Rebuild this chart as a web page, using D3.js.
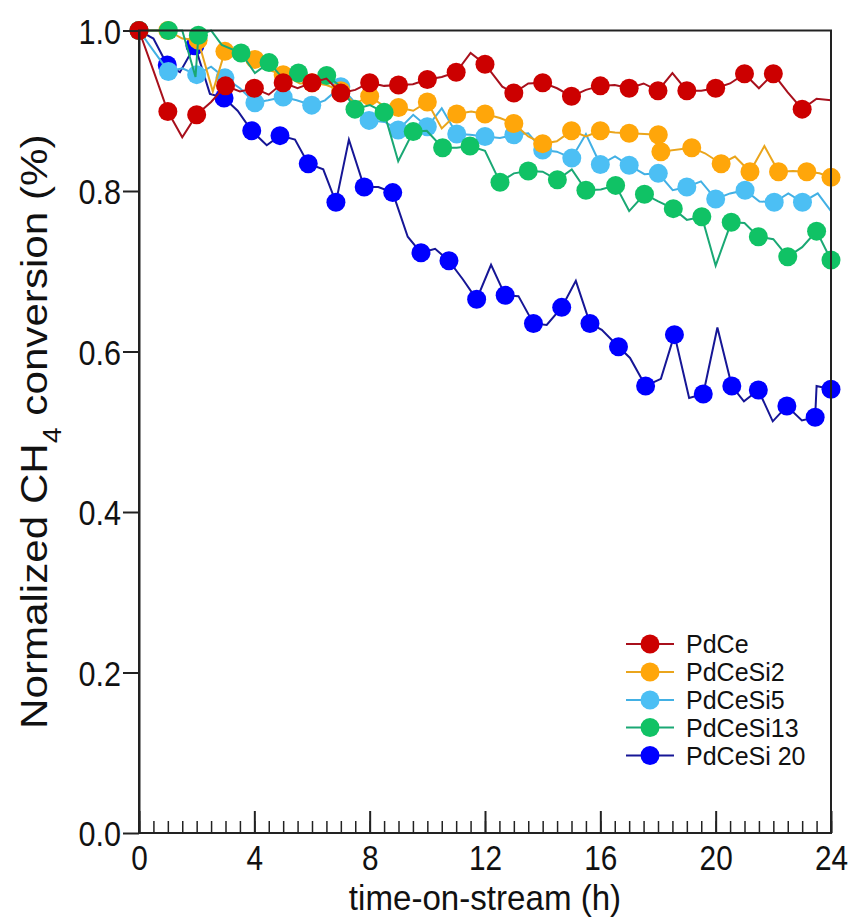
<!DOCTYPE html>
<html>
<head>
<meta charset="utf-8">
<script src="https://cdn.jsdelivr.net/npm/d3@7"></script>
<style>
	body { margin: 0; background: #fff; }
	svg text { font-family: "Liberation Sans", Arial, sans-serif; fill: #111; }
</style>
</head>
<body>
<div id="chart"></div>
<script>
// THE DATA (time in h, normalized conversion)
const seriesNames = ['PdCe', 'PdCeSi2', 'PdCeSi5', 'PdCeSi13', 'PdCeSi 20'];

const pdceT = [0,0.5,1,1.5,2,2.5,3,3.5,4,4.5,5,5.5,6,6.5,7,7.5,8,8.5,9,9.5,10,10.5,11,11.5,12,12.6,13,13.5,14,14.5,15,15.5,16,16.5,17,17.5,18,18.5,19,19.5,20,20.5,21,21.5,22,22.5,23,23.5,24];
const pdceV = [1.0,0.95,0.899,0.867,0.895,0.911,0.931,0.924,0.928,0.920,0.935,0.928,0.935,0.940,0.922,0.926,0.935,0.931,0.932,0.933,0.939,0.942,0.948,0.972,0.958,0.930,0.922,0.934,0.935,0.928,0.918,0.926,0.931,0.932,0.928,0.934,0.925,0.947,0.925,0.925,0.928,0.934,0.946,0.928,0.946,0.923,0.902,0.915,0.913];
const pdceM = [1,0,1,0,1,0,1,0,1,0,1,0,1,0,1,0,1,0,1,0,1,0,1,0,1,0,1,0,1,0,1,0,1,0,1,0,1,0,1,0,1,0,1,0,1,0,1,0,0];

const si2T = [0,0.5,1,1.5,2.05,2.56,2.98,3.5,4.02,4.48,5.0,5.58,6.0,6.5,7.0,7.49,8.0,8.53,9.0,9.51,10.0,10.5,11.02,11.52,12.0,12.52,13.0,13.5,14.0,14.49,15.0,15.5,16.0,16.51,17.0,17.53,18.01,18.1,19.17,19.63,20.19,20.67,21.19,21.69,22.18,22.68,23.16,23.6,24.0];
const si2V = [1.0,1.0,1.0,0.99,0.988,0.924,0.974,0.972,0.964,0.951,0.945,0.934,0.935,0.932,0.925,0.909,0.918,0.905,0.904,0.900,0.911,0.878,0.896,0.899,0.896,0.891,0.884,0.868,0.859,0.862,0.875,0.868,0.875,0.873,0.872,0.871,0.870,0.849,0.854,0.847,0.834,0.843,0.824,0.856,0.824,0.825,0.824,0.822,0.817];
const si2M = [1,0,1,0,1,0,1,0,1,0,1,0,1,0,1,0,1,0,1,0,1,0,1,0,1,0,1,0,1,0,1,0,1,0,1,0,1,1,1,0,1,0,1,0,1,0,1,0,1];

const si5T = [0,0.5,1.02,1.5,2.0,2.5,2.98,3.5,4.02,4.48,5.0,5.47,5.99,6.45,7.0,7.49,7.98,8.53,8.99,9.51,10.0,10.5,11.02,11.48,12.0,12.52,13.0,13.5,14.0,14.49,15.01,15.5,16.0,16.51,17.0,17.53,18.01,18.51,19.0,19.49,20.0,20.5,21.02,21.52,22.03,22.52,23.01,23.54,24.0];
const si5V = [1.0,0.975,0.949,0.953,0.945,0.955,0.941,0.928,0.910,0.913,0.917,0.913,0.907,0.913,0.930,0.910,0.888,0.886,0.876,0.895,0.880,0.903,0.871,0.870,0.868,0.866,0.870,0.872,0.851,0.849,0.841,0.871,0.833,0.843,0.832,0.821,0.822,0.801,0.805,0.812,0.790,0.797,0.801,0.787,0.786,0.797,0.786,0.797,0.775];
const si5M = [1,0,1,0,1,0,1,0,1,0,1,0,1,0,1,0,1,0,1,0,1,0,1,0,1,0,1,0,1,0,1,0,1,0,1,0,1,0,1,0,1,0,1,0,1,0,1,0,0];

const si13T = [0,0.5,1.02,1.5,1.96,2.06,2.5,2.87,3.54,4.02,4.51,5.0,5.53,6.0,6.51,7.0,7.49,8.01,8.5,8.99,9.51,9.98,10.53,11.02,11.48,12.0,12.52,13.0,13.5,14.0,14.51,15.01,15.5,16.02,16.53,17.0,17.53,18.01,18.53,19.0,19.52,20.0,20.54,21.0,21.48,22.0,22.5,23.0,23.5,24.0];
const si13V = [1.0,1.0,1.0,1.0,0.942,0.994,1.0,0.982,0.972,0.947,0.960,0.940,0.947,0.938,0.944,0.930,0.902,0.907,0.898,0.837,0.874,0.875,0.854,0.854,0.856,0.850,0.811,0.822,0.825,0.824,0.814,0.827,0.801,0.802,0.807,0.775,0.796,0.787,0.778,0.764,0.768,0.707,0.761,0.760,0.743,0.740,0.718,0.730,0.750,0.714];
const si13M = [1,0,1,0,0,1,0,0,1,0,1,0,1,0,1,0,1,0,1,0,1,0,1,0,1,0,1,0,1,0,1,0,1,0,1,0,1,0,1,0,1,0,1,0,1,0,1,0,1,1];

const si20T = [0,0.5,0.98,1.42,1.94,2.46,2.95,3.42,3.91,4.43,4.89,5.41,5.87,6.39,6.83,7.28,7.81,8.30,8.80,9.32,9.78,10.27,10.75,11.23,11.71,12.21,12.70,13.16,13.68,14.14,14.66,15.15,15.64,16.05,16.63,17.03,17.57,18.10,18.57,19.08,19.57,20.06,20.56,20.98,21.48,21.98,22.47,22.99,23.45,23.50,24.0];
const si20V = [1.0,0.99,0.957,0.948,0.981,0.921,0.916,0.900,0.875,0.857,0.869,0.864,0.834,0.827,0.786,0.864,0.805,0.805,0.798,0.743,0.723,0.728,0.713,0.690,0.665,0.708,0.670,0.669,0.635,0.633,0.655,0.688,0.635,0.627,0.606,0.592,0.557,0.566,0.621,0.542,0.547,0.630,0.557,0.538,0.552,0.513,0.532,0.514,0.518,0.557,0.553];
const si20M = [1,0,1,0,1,0,1,0,1,0,1,0,1,0,1,0,1,0,1,0,1,0,1,0,1,0,1,0,1,0,1,0,1,0,1,0,1,0,1,0,1,0,1,0,1,0,1,0,1,0,1];

const xMajorTicks = [0, 4, 8, 12, 16, 20, 24];
const xMinorTicks = d3.range(0, 24.01, 0.5);
const yTickValues = [0, 0.2, 0.4, 0.6, 0.8, 1.0];

// colours: marker fill, line stroke
const markerColours = ['#cc0000', '#ffa60a', '#4cbff4', '#10c265', '#0000ff'];
const lineColours = ['#a8101c', '#eaa51c', '#42b0e4', '#1aa874', '#161696'];

// THE GOOD STUFF
const width = 850;
const height = 917;
const margin = { top: 30.5, right: 19, bottom: 84, left: 139 };
const markerR = 9.5;

const x = d3.scaleLinear().domain([0, 24]).range([margin.left, width - margin.right]);
const y = d3.scaleLinear().domain([0, 1]).range([height - margin.bottom, margin.top]);

const svg = d3.select('#chart')
	.append('svg')
	.attr('width', width)
	.attr('height', height);

const series = [
	{ t: pdceT, v: pdceV, m: pdceM },
	{ t: si2T, v: si2V, m: si2M },
	{ t: si5T, v: si5V, m: si5M },
	{ t: si13T, v: si13V, m: si13M },
	{ t: si20T, v: si20V, m: si20M }
].map((s, i) => ({
	name: seriesNames[i],
	points: s.t.map((t, j) => ({ t, v: s.v[j], mark: s.m[j] === 1 }))
}));

const line = d3.line()
	.x(d => x(d.t))
	.y(d => y(d.v));

// draw order in the figure: blue at the back, red on top
const drawOrder = [4, 2, 1, 3, 0];

drawOrder.forEach(i => {
	const g = svg.append('g').attr('class', `series s${i}`);

	g.append('path')
		.datum(series[i].points)
		.attr('fill', 'none')
		.attr('stroke', lineColours[i])
		.attr('stroke-width', 2)
		.attr('d', line);

	g.selectAll('circle')
		.data(series[i].points.filter(d => d.mark))
		.join('circle')
		.attr('cx', d => x(d.t))
		.attr('cy', d => y(d.v))
		.attr('r', markerR)
		.attr('fill', markerColours[i]);
});

// frame
svg.append('rect')
	.attr('x', x(0))
	.attr('y', y(1))
	.attr('width', x(24) - x(0))
	.attr('height', y(0) - y(1))
	.attr('fill', 'none')
	.attr('stroke', '#222')
	.attr('stroke-width', 2);

// y axis, ticks pointing out
const yAxis = svg.append('g')
	.attr('transform', `translate(${x(0)},0)`)
	.call(d3.axisLeft(y)
		.tickValues(yTickValues)
		.tickSize(16)
		.tickSizeOuter(0)
		.tickFormat(d3.format('.1f'))
	);
yAxis.select('.domain').attr('stroke', '#222').attr('stroke-width', 2);
yAxis.selectAll('.tick line').attr('stroke', '#222').attr('stroke-width', 2);
yAxis.selectAll('.tick text')
	.attr('x', null)
	.attr('dy', '0.36em')
	.attr('text-anchor', 'end')
	.attr('transform', 'translate(-18,0) scale(0.85,1)')
	.style('font-size', '36px')
	.style('fill', '#111');

// x axis, minor + major ticks pointing in
const xMinor = svg.append('g')
	.attr('transform', `translate(0,${y(0)})`)
	.call(d3.axisBottom(x)
		.tickValues(xMinorTicks)
		.tickSize(-12)
		.tickSizeOuter(0)
		.tickFormat('')
	);
xMinor.select('.domain').remove();
xMinor.selectAll('.tick line').attr('stroke', '#222').attr('stroke-width', 1.5);

const xAxis = svg.append('g')
	.attr('transform', `translate(0,${y(0)})`)
	.call(d3.axisBottom(x)
		.tickValues(xMajorTicks)
		.tickSize(-22)
		.tickSizeOuter(0)
		.tickFormat(d3.format('d'))
	);
xAxis.select('.domain').remove();
xAxis.selectAll('.tick line').attr('stroke', '#222').attr('stroke-width', 2);
xAxis.selectAll('.tick text')
	.attr('y', null)
	.attr('dy', null)
	.attr('transform', 'translate(0,37) scale(0.85,1)')
	.style('font-size', '35px')
	.style('fill', '#111');

// axis titles
svg.append('text')
	.attr('text-anchor', 'middle')
	.attr('transform', `translate(${(x(0) + x(24)) / 2},910) scale(0.92,1)`)
	.style('font-size', '36px')
	.text('time-on-stream (h)');

const yTitle = svg.append('text')
	.attr('text-anchor', 'middle')
	.attr('transform', `translate(47,${(y(0) + y(1)) / 2}) rotate(-90) scale(1.14,1)`)
	.style('font-size', '37px');
yTitle.append('tspan').text('Normalized CH');
yTitle.append('tspan').attr('baseline-shift', 'sub').style('font-size', '25px').text('4');
yTitle.append('tspan').text(' conversion (%)');

// legend
const legendRows = [644, 672, 700, 727.5, 755.5];
const legend = svg.append('g').attr('class', 'legend');
series.forEach((s, i) => {
	const row = legend.append('g').attr('transform', `translate(0,${legendRows[i]})`);
	row.append('line')
		.attr('x1', 626)
		.attr('x2', 674)
		.attr('stroke', lineColours[i])
		.attr('stroke-width', 2);
	row.append('circle')
		.attr('cx', 650)
		.attr('r', markerR)
		.attr('fill', markerColours[i]);
	row.append('text')
		.attr('x', 686)
		.attr('dy', '0.36em')
		.style('font-size', '25px')
		.text(s.name);
});
</script>
</body>
</html>
